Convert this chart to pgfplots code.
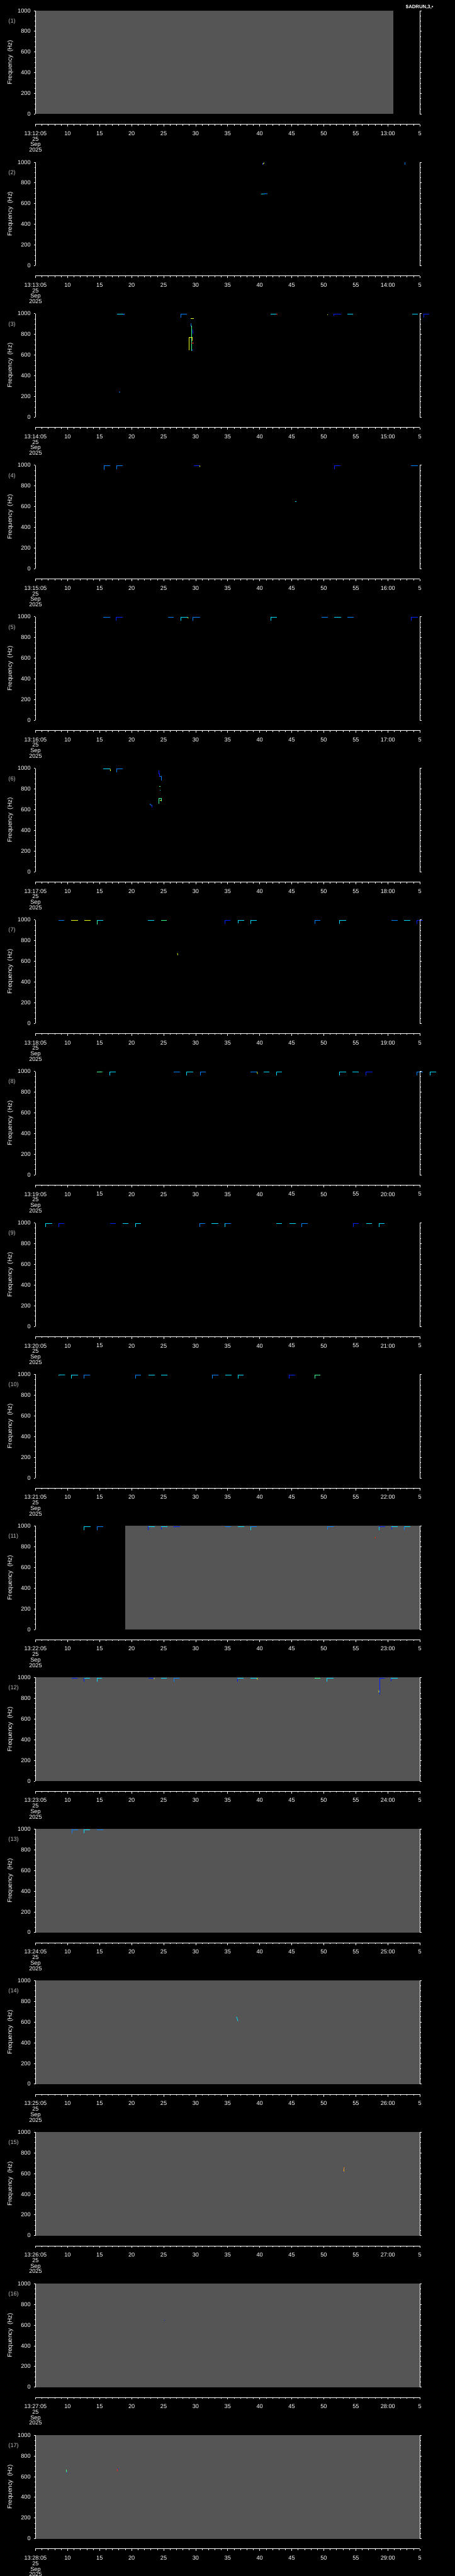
\documentclass[border=0pt]{standalone}
\usepackage{fontspec}
\setmainfont{Liberation Sans}
\usepackage{pgfplots}
\pgfplotsset{compat=1.18}
\definecolor{gbg}{RGB}{85,85,85}
\definecolor{cB}{RGB}{0,30,255}
\definecolor{cL}{RGB}{0,130,255}
\definecolor{cC}{RGB}{0,220,255}
\definecolor{cG}{RGB}{60,255,140}
\definecolor{cY}{RGB}{230,255,20}
\definecolor{cO}{RGB}{255,170,0}
\definecolor{cR}{RGB}{255,40,0}
\definecolor{plab}{RGB}{190,190,190}
\newcommand\tickfont{\fontsize{6.5}{6.2}\selectfont}
\newcommand\labfont{\fontsize{7}{8}\selectfont}
\pgfplotsset{
 base/.style={scale only axis, width=432.5pt, xmin=0, xmax=60,
   axis line style={white, line width=0.5pt, -},
   tick style={white, line width=0.5pt},
   tick label style={text=white, font=\tickfont},
   /pgf/number format/assume math mode=true,
   /pgf/number format/1000 sep={},
   tick align=outside},
 mainax/.style={base, at={(0pt,{-(#1-1)*170.65pt})}, anchor=north west,
   height=116.5pt, ymin=0, ymax=1000,
   separate axis lines, x axis line style={draw=none},
   xtick=\empty, ytick={0,200,...,1000}, minor y tick num=3,
   ytick pos=both, yticklabel pos=left,
   major tick length=2pt, minor tick length=1pt,
   ylabel={Frequency\ \ (Hz)},
   every axis y label/.style={at={(axis description cs:-0.0659,0.5)}, rotate=90, anchor=center, text=white, font=\labfont},
   title={(#1)},
   every axis title/.style={at={(axis description cs:-0.0786,0.897)}, anchor=west, text=plab, font=\tickfont},
   axis on top,
   every axis plot/.append style={line width=0.6pt, mark=none}},
 timeax/.style={base, at={(0pt,{-(#1-1)*170.65pt-128pt})}, anchor=south west,
   height=1pt, ymin=0, ymax=1, axis y line=none, axis x line*=bottom,
   x axis line style={-},
   xtick={0,5,...,60}, minor x tick num=4,
   major tick length=2.5pt, minor tick length=1.5pt,
   xticklabel style={align=center, yshift=-2pt}},
}
\begin{document}
\begin{tikzpicture}
\fill[black] (-40pt,12pt) rectangle (472pt,-2889pt);
\path[use as bounding box] (-40pt,12pt) rectangle (472pt,-2889pt);
\node[text=white, font=\bfseries\fontsize{5.5}{6}\selectfont] at (432.25pt,4pt) {\$ADRUN,3,•};

\foreach \k in {1,...,17}{
 \pgfmathtruncatemacro\ma{11+\k}
 \pgfmathtruncatemacro\mb{12+\k}
 \begin{axis}[timeax=\k, xticklabels={{13:\ma:05\\25\\Sep\\2025},10,15,20,25,30,35,40,45,50,55,{\mb:00},5}]
 \end{axis}
}

% Panel 1
\begin{axis}[mainax=1]
\addplot[fill=gbg, draw=none] coordinates {(0,1000)(55.9,1000)} \closedcycle;
\end{axis}

% Panel 2
\begin{axis}[mainax=2]
\addplot[cB] coordinates {(35.45,996)(35.45,978)};
\addplot[cY] coordinates {(35.5,980)(35.7,995)};
\addplot[cC] coordinates {(35.2,690)(35.55,694)(36.2,696)};
\addplot[cB] coordinates {(35.85,699)(36.0,699)};
\addplot[cL] coordinates {(57.7,1000)(57.7,972)};
\end{axis}

% Panel 3
\begin{axis}[mainax=3, clip=false]
\addplot[cC] coordinates {(12.7,996)(13.9,996)};
\addplot[cB] coordinates {(13.75,996)(13.75,988)};
\addplot[cL] coordinates {(13.0,242)(13.2,242)};
\addplot[cL] coordinates {(22.7,965)(22.7,996)(23.65,996)};
\addplot[cY] coordinates {(24.2,954)(24.7,954)};
\addplot[cL] coordinates {(24.24,906)(24.24,877)};
\addplot[cG] coordinates {(24.33,885)(24.33,640)};
\addplot[cB] coordinates {(24.5,849)(24.6,806)};
\addplot[cY] coordinates {(23.95,647)(23.95,770)(24.5,770)};
\addplot[cO] coordinates {(24.5,770)(24.5,740)};
\addplot[cR] coordinates {(24.35,716)(24.75,716)};
\addplot[cO] coordinates {(23.9,647)(24.05,647)};
\addplot[cB] coordinates {(24.4,647)(24.6,647)};
\addplot[cC] coordinates {(36.7,996)(37.6,996)};
\addplot[cR] coordinates {(37.6,996)(37.8,996)};
\addplot[cY] coordinates {(45.6,995)(45.6,985)};
\addplot[cB] coordinates {(46.6,980)(46.6,996)(47.7,996)};
\addplot[cC] coordinates {(48.7,996)(49.6,996)};
\addplot[cC] coordinates {(58.8,996)(59.7,996)};
\addplot[cB] coordinates {(60.6,965)(60.6,996)(61.5,996)};
\end{axis}

% Panel 4
\begin{axis}[mainax=4]
\addplot[cL] coordinates {(10.7,959)(10.7,996)(11.6,996)};
\addplot[cL] coordinates {(12.7,960)(12.7,996)(13.6,996)};
\addplot[cB] coordinates {(24.7,996)(25.6,996)};
\addplot[cY] coordinates {(25.6,996)(25.7,985)};
\addplot[cC] coordinates {(40.55,651)(40.7,651)};
\addplot[cB] coordinates {(46.7,960)(46.7,996)(47.6,996)};
\addplot[cL] coordinates {(58.6,996)(59.7,996)};
\end{axis}

% Panel 5
\begin{axis}[mainax=5]
\addplot[cL] coordinates {(10.6,996)(11.6,996)};
\addplot[cB] coordinates {(12.6,962)(12.6,996)(13.6,996)};
\addplot[cL] coordinates {(20.7,996)(21.6,996)};
\addplot[cC] coordinates {(22.7,960)(22.7,996)(23.75,996)};
\addplot[cY] coordinates {(23.75,996)(23.85,985)};
\addplot[cL] coordinates {(24.6,960)(24.6,996)(25.7,996)};
\addplot[cC] coordinates {(36.7,960)(36.7,996)(37.7,996)};
\addplot[cL] coordinates {(44.7,996)(45.6,996)};
\addplot[cC] coordinates {(46.6,996)(47.7,996)};
\addplot[cL] coordinates {(48.7,996)(49.7,996)};
\addplot[cB] coordinates {(58.7,960)(58.7,996)(59.7,996)};
\end{axis}

% Panel 6
\begin{axis}[mainax=6]
\addplot[cC] coordinates {(10.6,996)(11.6,996)};
\addplot[cY] coordinates {(11.65,996)(11.7,975)};
\addplot[cL] coordinates {(12.7,960)(12.7,996)(13.6,996)};
\addplot[cB] coordinates {(19.26,979)(19.26,946)(19.4,946)(19.4,921)};
\addplot[cL] coordinates {(19.4,921)(19.6,921)(19.6,883)};
\addplot[cG] coordinates {(19.3,827)(19.55,827)};
\addplot[cC] coordinates {(19.4,786)(19.5,786)};
\addplot[cG] coordinates {(19.3,655)(19.3,707)(19.6,707)(19.6,682)};
\addplot[cY] coordinates {(19.45,690)(19.6,690)};
\addplot[cL] coordinates {(17.85,656)(18.0,645)(18.2,645)};
\addplot[cB] coordinates {(18.2,645)(18.2,620)};
\end{axis}

% Panel 7
\begin{axis}[mainax=7, clip=false]
\addplot[cL] coordinates {(3.6,996)(4.5,996)};
\addplot[cY] coordinates {(5.6,996)(6.6,996)};
\addplot[cY] coordinates {(7.6,996)(8.6,996)};
\addplot[cG] coordinates {(9.6,958)(9.6,996)};
\addplot[cC] coordinates {(9.6,996)(10.6,996)};
\addplot[cC] coordinates {(17.5,996)(18.5,996)};
\addplot[cG] coordinates {(19.6,996)(20.5,996)};
\addplot[cY] coordinates {(22.16,679)(22.2,659)};
\addplot[cB] coordinates {(29.6,960)(29.6,996)(30.4,996)};
\addplot[cC] coordinates {(31.6,965)(31.6,996)(32.6,996)};
\addplot[cC] coordinates {(33.6,960)(33.6,996)(34.55,996)};
\addplot[cL] coordinates {(43.6,960)(43.6,996)(44.5,996)};
\addplot[cC] coordinates {(47.5,960)(47.5,996)(48.5,996)};
\addplot[cL] coordinates {(55.6,996)(56.5,996)};
\addplot[cC] coordinates {(57.5,996)(58.5,996)};
\addplot[cB] coordinates {(59.5,960)(59.5,996)(60.45,996)};
\end{axis}

% Panel 8
\begin{axis}[mainax=8, clip=false]
\addplot[cG] coordinates {(9.6,994)(10.5,996)};
\addplot[cC] coordinates {(11.6,959)(11.6,996)(12.55,996)};
\addplot[cL] coordinates {(21.6,996)(22.6,996)};
\addplot[cC] coordinates {(23.6,960)(23.6,996)(24.6,996)};
\addplot[cL] coordinates {(25.7,960)(25.7,996)(26.6,996)};
\addplot[cL] coordinates {(33.6,996)(34.6,996)};
\addplot[cY] coordinates {(34.6,996)(34.65,975)};
\addplot[cC] coordinates {(35.6,996)(36.5,996)};
\addplot[cC] coordinates {(37.6,960)(37.6,996)(38.5,996)};
\addplot[cC] coordinates {(47.5,960)(47.5,996)(48.5,996)};
\addplot[cC] coordinates {(49.5,996)(50.5,996)};
\addplot[cB] coordinates {(51.6,960)(51.6,996)(52.6,996)};
\addplot[cL] coordinates {(59.5,960)(59.5,996)(60.5,996)};
\addplot[cC] coordinates {(61.6,960)(61.6,996)(62.5,996)};
\end{axis}

% Panel 9
\begin{axis}[mainax=9]
\addplot[cC] coordinates {(1.6,960)(1.6,996)(2.6,996)};
\addplot[cB] coordinates {(3.6,960)(3.6,996)(4.5,996)};
\addplot[cB] coordinates {(11.6,996)(12.55,996)};
\addplot[cC] coordinates {(13.6,996)(14.5,996)};
\addplot[cC] coordinates {(15.6,960)(15.6,996)(16.5,996)};
\addplot[cL] coordinates {(25.6,960)(25.6,996)(26.5,996)};
\addplot[cC] coordinates {(27.5,996)(28.5,996)};
\addplot[cC] coordinates {(29.6,960)(29.6,996)};
\addplot[cL] coordinates {(29.6,996)(30.5,996)};
\addplot[cC] coordinates {(37.6,996)(38.5,996)};
\addplot[cC] coordinates {(39.6,996)(40.6,996)};
\addplot[cL] coordinates {(41.6,960)(41.6,996)(42.5,996)};
\addplot[cB] coordinates {(49.6,960)(49.6,996)(50.5,996)};
\addplot[cC] coordinates {(51.6,996)(52.5,996)};
\addplot[cC] coordinates {(53.6,960)(53.6,996)(54.5,996)};
\end{axis}

% Panel 10
\begin{axis}[mainax=10]
\addplot[cC] coordinates {(3.6,990)(3.7,996)(4.6,996)};
\addplot[cC] coordinates {(5.6,960)(5.6,996)(6.6,996)};
\addplot[cL] coordinates {(7.6,960)(7.6,996)(8.5,996)};
\addplot[cL] coordinates {(15.6,960)(15.6,996)(16.5,996)};
\addplot[cC] coordinates {(17.6,996)(18.6,996)};
\addplot[cC] coordinates {(19.6,996)(20.6,996)};
\addplot[cL] coordinates {(27.6,960)(27.6,996)(28.5,996)};
\addplot[cC] coordinates {(29.6,996)(30.6,996)};
\addplot[cC] coordinates {(31.6,960)(31.6,996)(32.5,996)};
\addplot[cB] coordinates {(39.6,960)(39.6,996)(40.55,996)};
\addplot[cG] coordinates {(43.6,960)(43.6,996)(44.5,996)};
\end{axis}

% Panel 11
\begin{axis}[mainax=11]
\addplot[fill=gbg, draw=none] coordinates {(14.0,1000)(60,1000)} \closedcycle;
\addplot[cC] coordinates {(7.6,960)(7.6,996)(8.6,996)};
\addplot[cL] coordinates {(9.6,960)(9.6,996)(10.6,996)};
\addplot[cB] coordinates {(17.6,960)(17.6,996)};
\addplot[cC] coordinates {(17.6,996)(18.6,996)};
\addplot[cB] coordinates {(19.6,965)(19.6,996)};
\addplot[cC] coordinates {(19.6,996)(20.6,996)};
\addplot[cB] coordinates {(21.6,985)(21.6,996)(22.6,996)};
\addplot[cL] coordinates {(29.6,996)(30.5,996)};
\addplot[cC] coordinates {(31.6,996)(32.6,996)};
\addplot[cC] coordinates {(33.6,960)(33.6,996)};
\addplot[cL] coordinates {(33.6,996)(34.5,996)};
\addplot[cL] coordinates {(45.6,965)(45.6,996)(46.55,996)};
\addplot[cR, line width=1pt] coordinates {(53.0,887)(53.12,887)};
\addplot[cC] coordinates {(53.6,960)(53.6,996)};
\addplot[cB] coordinates {(53.6,996)(54.55,996)};
\addplot[cB] coordinates {(55.6,965)(55.6,996)};
\addplot[cC] coordinates {(55.6,996)(56.55,996)};
\addplot[cL] coordinates {(57.6,960)(57.6,996)};
\addplot[cC] coordinates {(57.6,996)(58.5,996)};
\end{axis}

% Panel 12
\begin{axis}[mainax=12]
\addplot[fill=gbg, draw=none] coordinates {(0,1000)(60,1000)} \closedcycle;
\addplot[cB] coordinates {(5.66,996)(6.5,996)};
\addplot[cB] coordinates {(7.6,959)(7.6,996)};
\addplot[cC] coordinates {(7.6,996)(8.5,996)};
\addplot[cC] coordinates {(9.6,960)(9.6,996)(10.4,996)};
\addplot[cB] coordinates {(17.6,996)(18.5,996)};
\addplot[cY] coordinates {(18.5,996)(18.55,986)};
\addplot[cC] coordinates {(19.6,996)(20.5,996)};
\addplot[cL] coordinates {(21.6,960)(21.6,996)(22.5,996)};
\addplot[cB] coordinates {(31.5,960)(31.5,996)};
\addplot[cC] coordinates {(31.5,996)(32.5,996)};
\addplot[cC] coordinates {(33.6,996)(34.6,996)};
\addplot[cY] coordinates {(34.6,996)(34.65,980)};
\addplot[cG] coordinates {(43.6,996)(44.5,996)};
\addplot[cC] coordinates {(45.5,960)(45.5,996)(46.5,996)};
\addplot[cB] coordinates {(53.7,838)(53.7,996)(54.5,996)};
\addplot[cY] coordinates {(53.6,877)(53.62,855)};
\addplot[cB] coordinates {(55.5,965)(55.5,996)};
\addplot[cC] coordinates {(55.5,996)(56.5,996)};
\end{axis}

% Panel 13
\begin{axis}[mainax=13]
\addplot[fill=gbg, draw=none] coordinates {(0,1000)(60,1000)} \closedcycle;
\addplot[cL] coordinates {(5.66,960)(5.66,996)(6.6,996)};
\addplot[cC] coordinates {(7.6,960)(7.6,996)(8.5,996)};
\addplot[cL] coordinates {(9.6,996)(10.55,996)};
\end{axis}

% Panel 14
\begin{axis}[mainax=14]
\addplot[fill=gbg, draw=none] coordinates {(0,1000)(60,1000)} \closedcycle;
\addplot[cC] coordinates {(31.35,649)(31.45,640)(31.6,608)};
\end{axis}

% Panel 15
\begin{axis}[mainax=15]
\addplot[fill=gbg, draw=none] coordinates {(0,1000)(60,1000)} \closedcycle;
\addplot[cO] coordinates {(48.1,613)(48.2,661)};
\addplot[cB] coordinates {(48.18,646)(48.26,646)};
\addplot[cB] coordinates {(47.98,618)(48.06,618)};
\end{axis}

% Panel 16
\begin{axis}[mainax=16]
\addplot[fill=gbg, draw=none] coordinates {(0,1000)(60,1000)} \closedcycle;
\addplot[cB] coordinates {(20.1,644)(20.2,644)};
\end{axis}

% Panel 17
\begin{axis}[mainax=17]
\addplot[fill=gbg, draw=none] coordinates {(0,1000)(60,1000)} \closedcycle;
\addplot[cG] coordinates {(4.8,667)(4.85,645)(4.9,638)};
\addplot[cB] coordinates {(4.9,638)(5.0,638)};
\addplot[cR] coordinates {(12.75,653)(12.8,676)};
\addplot[cB] coordinates {(12.85,676)(12.95,670)};
\end{axis}
\end{tikzpicture}
\end{document}
